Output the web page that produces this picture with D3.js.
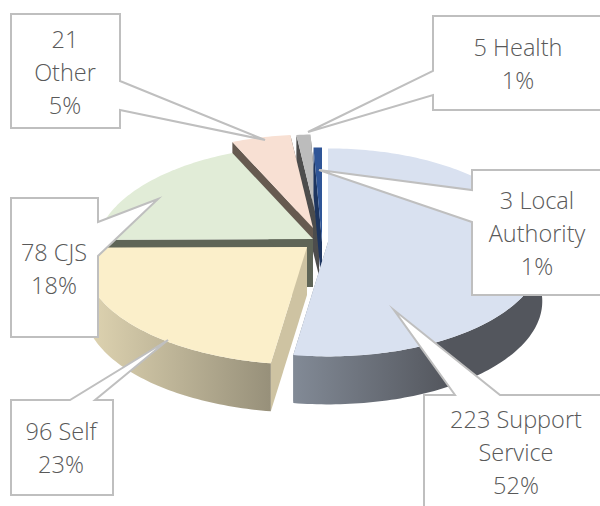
<!DOCTYPE html>
<html>
<head>
<meta charset="utf-8">
<style>
html,body{margin:0;padding:0;background:#fff;overflow:hidden}
svg{display:block}
text{font-family:"Open Sans",sans-serif;font-weight:300;font-size:23.5px;fill:#595959;text-anchor:middle}
</style>
<script src="https://cdn.jsdelivr.net/npm/d3@7/dist/d3.min.js"></script>
</head>
<body>
<svg id="chart" width="600" height="506"></svg>
<script>
// DATA
const categories = ["Support Service", "Self", "CJS", "Other", "Health", "Local Authority"];
const values = [223, 96, 78, 21, 5, 3];

// STYLE / LAYOUT
const topColors = ["#d9e1f0", "#fbefca", "#e1ecd7", "#f8e0d3", "#bcbcbc", "#2f5597"];
const cutColors = ["#7f8794", "#cec3a2", "#5f6557", "#665a50", "#4d4d4d", "#1d3560"];
const wallFrom = ["#828a96", "#e0d5b2", "#5f6557", "#665a50", "#4d4d4d", "#1d3560"];
const wallTo = ["#53565d", "#97907a", "#5f6557", "#665a50", "#4d4d4d", "#1d3560"];
const apexX = [328, 307, 313, 313, 319, 322];
const apexY = [242, 247, 239, 228, 228, 242];
const radiusX = [213, 222, 216, 216, 216, 216];
const radiusY = [104, 107, 104, 104, 104, 105];
const paintOrder = [4, 5, 3, 2, 1, 0];
const depth = 48, persX = 0.11, persY = 0.1;

const calloutLines = [
  ["{v} Support", "Service", "{p}"],
  ["{v} Self", "{p}"],
  ["{v} CJS", "{p}"],
  ["{v}", "Other", "{p}"],
  ["{v} Health", "{p}"],
  ["{v} Local", "Authority", "{p}"]
];
const calloutText = [[516, 420], [61, 432], [54, 253], [65, 40], [518, 48], [537, 201]];
const calloutShape = [
  [[424,508],[424,395],[455,395],[394,310],[500,395],[603,395],[603,508]],
  [[11,400],[70,400],[168,340],[95,400],[113,400],[113,495],[11,495]],
  [[11,198],[98,198],[98,222],[158,199],[98,256],[98,337],[11,337]],
  [[11,14],[120,14],[120,81],[265,140],[120,110],[120,128],[11,128]],
  [[433,16],[603,16],[603,110],[433,110],[433,95],[308,132],[433,71]],
  [[472,170],[603,170],[603,295],[472,295],[472,222],[319,170],[472,190]]
];
const lineH = 33;

const svg = d3.select("#chart");
const total = d3.sum(values);
const pct = d3.format(".0%");
const arcs = d3.pie().sort(null).value(d => d)(values);
const line = d3.line();

function project(i, a, dz) {
  const s = Math.sin(a), c = Math.cos(a);
  return [
    apexX[i] + radiusX[i] * s * (1 - persX * c),
    apexY[i] - radiusY[i] * c * (1 - persY * c) + dz
  ];
}
function rim(i, a0, a1, dz) {
  const n = Math.max(2, Math.ceil((a1 - a0) / 0.02));
  return d3.range(n + 1).map(k => project(i, a0 + (a1 - a0) * k / n, dz));
}

const defs = svg.append("defs");

paintOrder.forEach(i => {
  const d = arcs[i];
  const g = svg.append("g");
  const apex = [apexX[i], apexY[i]];
  const apexLow = [apexX[i], apexY[i] + depth];

  [d.startAngle, d.endAngle].forEach(a => {
    g.append("path")
      .attr("d", line([apex, project(i, a, 0), project(i, a, depth), apexLow]) + "Z")
      .attr("fill", cutColors[i]);
  });

  const a0 = Math.max(d.startAngle, Math.PI / 2);
  const a1 = Math.min(d.endAngle, 3 * Math.PI / 2);
  if (a1 > a0) {
    const top = rim(i, a0, a1, 0);
    const low = rim(i, a0, a1, depth).reverse();
    const xs = top.map(p => p[0]);
    const id = "wall" + i;
    const xLeft = d3.min(xs);
    const xRight = i === 0 ? 450 : d3.max(xs);
    const grad = defs.append("linearGradient").attr("id", id)
      .attr("gradientUnits", "userSpaceOnUse")
      .attr("x1", xLeft).attr("x2", xRight).attr("y1", 0).attr("y2", 0);
    grad.append("stop").attr("offset", 0).attr("stop-color", wallFrom[i]);
    grad.append("stop").attr("offset", 1).attr("stop-color", wallTo[i]);
    g.append("path")
      .attr("d", line(top.concat(low)) + "Z")
      .attr("fill", "url(#" + id + ")");
  }

  g.append("path")
    .attr("d", line([apex].concat(rim(i, d.startAngle, d.endAngle, 0))) + "Z")
    .attr("fill", topColors[i]);
});

categories.forEach((c, i) => {
  svg.append("path")
    .attr("d", line(calloutShape[i]) + "Z")
    .attr("fill", "#fff")
    .attr("stroke", "#bfbfbf")
    .attr("stroke-width", 2)
    .attr("stroke-linejoin", "miter")
    .attr("stroke-miterlimit", 10);
});

categories.forEach((c, i) => {
  const t = svg.append("text")
    .attr("x", calloutText[i][0])
    .attr("y", calloutText[i][1]);
  calloutLines[i].forEach((l, k) => {
    t.append("tspan")
      .attr("x", calloutText[i][0])
      .attr("y", calloutText[i][1] + 8 + k * lineH)
      .text(l.replace("{v}", values[i]).replace("{p}", pct(values[i] / total)));
  });
});
</script>
</body>
</html>
